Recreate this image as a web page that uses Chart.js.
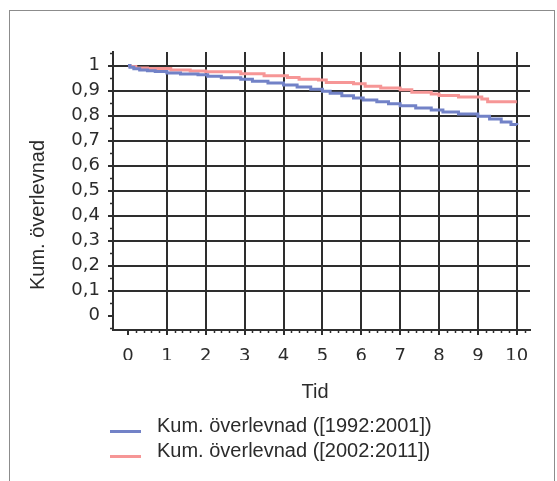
<!DOCTYPE html>
<html>
<head>
<meta charset="utf-8">
<script src="https://cdn.jsdelivr.net/npm/chart.js@4.4.1/dist/chart.umd.min.js"></script>
<style>
  html, body { margin: 0; padding: 0; background: #ffffff; }
  #wrap { position: relative; width: 557px; height: 481px; overflow: hidden; }
  canvas { position: absolute; left: 0; top: 0; }
</style>
</head>
<body>
<div id="wrap"><canvas id="km" width="557" height="481"></canvas></div>
<script>
// Kaplan-Meier steps: time of each drop (years) and survival right after it
const periodLabels = ['Kum. överlevnad ([1992:2001])', 'Kum. överlevnad ([2002:2011])'];

const timeA = [0, 0.05, 0.15, 0.3, 0.5, 0.7, 1.0, 1.35, 1.8, 2.05, 2.4, 2.9, 3.2, 3.6, 4.0, 4.35, 4.7, 5.0, 5.2, 5.5, 5.8, 6.05, 6.4, 6.7, 7.0, 7.4, 7.8, 8.1, 8.5, 9.0, 9.3, 9.6, 9.85, 10.0];
const survA = [1.0, 0.993, 0.987, 0.982, 0.979, 0.976, 0.970, 0.966, 0.963, 0.957, 0.951, 0.945, 0.937, 0.930, 0.922, 0.914, 0.905, 0.897, 0.889, 0.879, 0.870, 0.862, 0.855, 0.847, 0.839, 0.830, 0.822, 0.814, 0.806, 0.797, 0.786, 0.774, 0.764, 0.762];

const timeB = [0, 0.05, 0.2, 0.5, 1.1, 1.6, 2.0, 2.9, 3.5, 4.1, 4.4, 4.9, 5.1, 5.8, 6.1, 6.5, 7.0, 7.3, 7.8, 8.0, 8.5, 9.1, 9.25, 10.0];
const survB = [1.0, 0.996, 0.990, 0.988, 0.982, 0.978, 0.975, 0.967, 0.959, 0.952, 0.945, 0.942, 0.932, 0.927, 0.917, 0.910, 0.903, 0.893, 0.886, 0.880, 0.874, 0.866, 0.855, 0.855];

const xTickValues = [0, 1, 2, 3, 4, 5, 6, 7, 8, 9, 10];
const yTickValues = [0, 0.1, 0.2, 0.3, 0.4, 0.5, 0.6, 0.7, 0.8, 0.9, 1];
const xTitle = 'Tid';
const yTitle = 'Kum. överlevnad';

const colorA = '#7282c7';
const colorB = '#f69696';
const inkColor = '#2b2b2b';
const gridColor = '#2e2e2e';

function toPoints(ts, ss) {
  return ts.map((t, i) => ({ x: t, y: ss[i] }));
}

function fmtY(v) {
  const r = Math.round(v * 10) / 10;
  return Number.isInteger(r) ? String(r) : r.toFixed(1).replace('.', ',');
}

// short minor ticks outside both axes, plus frame, axis titles and legend
const decorations = {
  id: 'decorations',
  afterDraw(chart) {
    const ctx = chart.ctx;
    const xs = chart.scales.x, ys = chart.scales.y;
    const area = chart.chartArea;
    ctx.save();
    ctx.strokeStyle = gridColor;
    ctx.lineWidth = 1.5;
    ctx.beginPath();
    for (let k = 1; k <= 51; k++) {
      if (k % 5 === 0) continue;
      const v = k * 0.2;
      if (v > xs.max) break;
      const px = Math.round(xs.getPixelForValue(v)) + 0.5;
      ctx.moveTo(px, area.bottom);
      ctx.lineTo(px, area.bottom + 3);
    }
    for (let k = -1; k <= 21; k += 2) {
      const v = k * 0.05;
      if (v < ys.min || v > ys.max) continue;
      const py = Math.round(ys.getPixelForValue(v)) + 0.5;
      ctx.moveTo(area.left - 3, py);
      ctx.lineTo(area.left, py);
    }
    ctx.stroke();

    // frame
    ctx.strokeStyle = '#8c8c8c';
    ctx.lineWidth = 1;
    ctx.strokeRect(9.5, 10.5, 545, 500);

    // axis titles
    ctx.fillStyle = inkColor;
    ctx.font = '20px "Liberation Sans", Arial, sans-serif';
    ctx.textAlign = 'center';
    ctx.textBaseline = 'alphabetic';
    ctx.fillText(xTitle, 315, 398);
    ctx.save();
    ctx.translate(44, 215);
    ctx.rotate(-Math.PI / 2);
    ctx.fillText(yTitle, 0, 0);
    ctx.restore();

    // legend
    const rows = [432, 457];
    chart.data.datasets.forEach((ds, i) => {
      ctx.strokeStyle = ds.borderColor;
      ctx.lineWidth = 3;
      ctx.beginPath();
      ctx.moveTo(110, rows[i] - 0.5);
      ctx.lineTo(141, rows[i] - 0.5);
      ctx.stroke();
      ctx.fillStyle = inkColor;
      ctx.textAlign = 'left';
      ctx.fillText(ds.label, 157, rows[i]);
    });
    ctx.restore();
  }
};

new Chart(document.getElementById('km'), {
  type: 'line',
  data: {
    datasets: [
      { label: periodLabels[0], data: toPoints(timeA, survA), borderColor: colorA, backgroundColor: colorA },
      { label: periodLabels[1], data: toPoints(timeB, survB), borderColor: colorB, backgroundColor: colorB }
    ]
  },
  options: {
    responsive: false,
    animation: false,
    devicePixelRatio: 1,
    layout: { padding: { left: 0, top: 52, right: 27, bottom: 121 } },
    elements: {
      line: { borderWidth: 3, stepped: true, tension: 0 },
      point: { radius: 0 }
    },
    plugins: { legend: { display: false }, tooltip: { enabled: false } },
    scales: {
      x: {
        type: 'linear',
        min: -0.386,
        max: 10.34,
        afterFit(s) { s.height = 30; },
        afterBuildTicks(s) { s.ticks = xTickValues.map(v => ({ value: v })); },
        ticks: {
          autoSkip: false, maxRotation: 0, padding: 11, color: inkColor,
          font: { family: '"DejaVu Sans", Verdana, sans-serif', size: 18 },
          callback: v => String(v)
        },
        grid: {
          color: c => (c.tick && c.tick.value === 0) ? 'rgba(0,0,0,0)' : gridColor,
          tickColor: gridColor, tickLength: 5, lineWidth: 2
        },
        border: { display: true, color: gridColor, width: 2 },
        title: { display: false }
      },
      y: {
        type: 'linear',
        min: -0.058,
        max: 1.054,
        afterFit(s) { s.width = 113; },
        afterBuildTicks(s) { s.ticks = yTickValues.map(v => ({ value: v })); },
        ticks: {
          autoSkip: false, padding: 8, color: inkColor,
          font: { family: '"DejaVu Sans", Verdana, sans-serif', size: 18 },
          callback: v => fmtY(v)
        },
        grid: {
          color: c => (c.tick && c.tick.value === 0) ? 'rgba(0,0,0,0)' : gridColor,
          tickColor: gridColor, tickLength: 5, lineWidth: 2
        },
        border: { display: true, color: gridColor, width: 2 },
        title: { display: false }
      }
    }
  },
  plugins: [decorations]
});
</script>
</body>
</html>
